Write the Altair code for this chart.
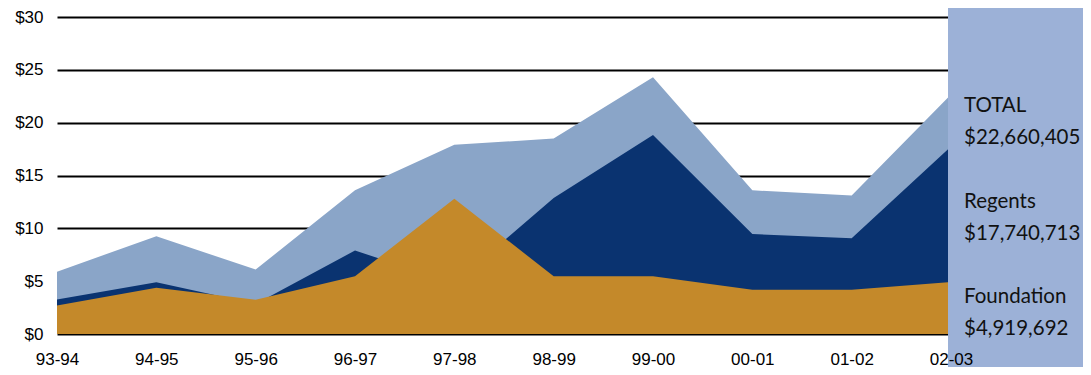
import altair as alt
import pandas as pd

years = ["93-94", "94-95", "95-96", "96-97", "97-98", "98-99", "99-00", "00-01", "01-02", "02-03"]
total = [5.9, 9.25, 6.1, 13.6, 17.9, 18.5, 24.3, 13.6, 13.1, 22.66]
regents = [3.27, 4.9, 2.85, 7.9, 4.8, 12.86, 18.84, 9.46, 9.06, 17.74]
foundation = [2.7, 4.37, 3.24, 5.47, 12.8, 5.47, 5.47, 4.18, 4.18, 4.92]

legend_names = ["TOTAL", "Regents", "Foundation"]
legend_amounts = ["$22,660,405", "$17,740,713", "$4,919,692"]
y_ticks = [0, 5, 10, 15, 20, 25, 30]

df = pd.DataFrame({"year": years, "total": total, "regents": regents, "foundation": foundation})

W, H = 894, 317

xenc = alt.X(
    "year:O",
    sort=years,
    scale=alt.Scale(type="point", padding=0),
    axis=alt.Axis(
        title=None, labelAngle=0, ticks=False, domain=False, grid=False,
        labelFont="Liberation Sans", labelFontSize=17, labelColor="#000000",
        labelPadding=17, zindex=2, labelOverlap=False,
    ),
)
yscale = alt.Scale(domain=[0, 30], nice=False)
yaxis = alt.Axis(
    title=None, values=y_ticks, labelExpr="'$' + datum.value", ticks=False, domain=False,
    grid=True, gridColor="#000000", gridWidth=2, gridOpacity=1,
    labelFont="Liberation Sans", labelFontSize=17, labelColor="#000000", labelPadding=14,
)

base = alt.Chart(df)
a_total = base.mark_area(color="#8AA5C8", opacity=1).encode(
    x=xenc, y=alt.Y("total:Q", scale=yscale, axis=yaxis))
a_reg = base.mark_area(color="#0A3370", opacity=1).encode(
    x=xenc, y=alt.Y("regents:Q", scale=yscale))
a_fnd = base.mark_area(color="#C4892A", opacity=1).encode(
    x=xenc, y=alt.Y("foundation:Q", scale=yscale))

one = pd.DataFrame({"k": [0]})
panel = alt.Chart(one).mark_rect(color="#9CB1D7", opacity=1).encode(
    x=alt.value(891), x2=alt.value(1030), y=alt.value(-10), y2=alt.value(355))

texts = []
ys = [95, 191, 286]
for name, amt, yy in zip(legend_names, legend_amounts, ys):
    texts.append(
        alt.Chart(one).mark_text(
            align="left", baseline="alphabetic", font="Lato", fontSize=20.5,
            lineHeight=32, color="#111111",
        ).encode(x=alt.value(907), y=alt.value(yy), text=alt.value([name, amt]))
    )

chart = alt.layer(a_total, a_reg, a_fnd, panel, *texts).properties(
    width=W, height=H,
    autosize=alt.AutoSizeParams(type="none"),
    padding={"left": 49, "top": 9, "right": 132, "bottom": 33},
).configure_view(stroke=None)

chart.save("out.html", embed_options={"renderer": "svg", "actions": False})
